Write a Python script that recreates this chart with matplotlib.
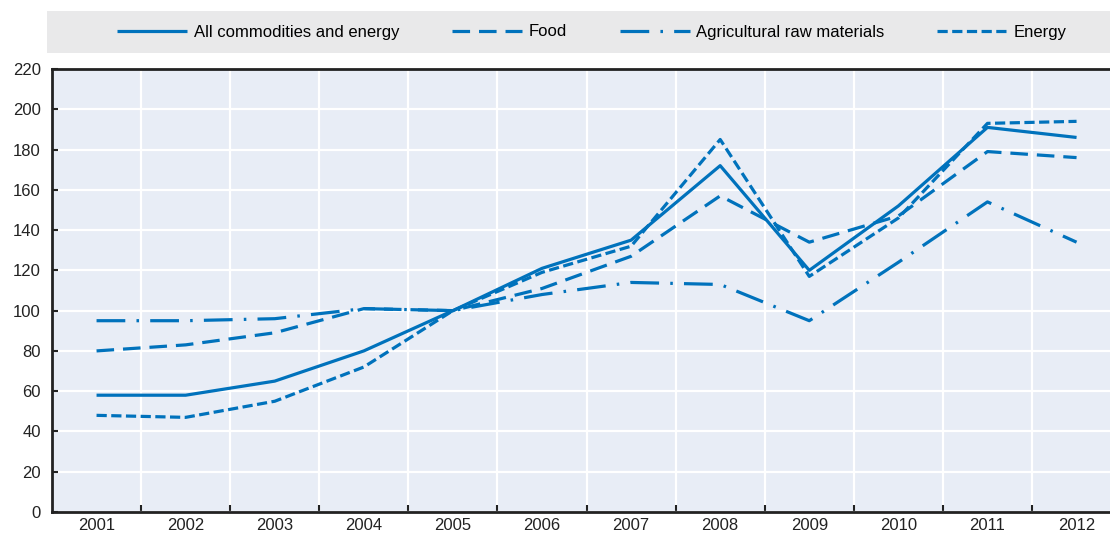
import matplotlib
matplotlib.use("Agg")
import matplotlib.pyplot as plt
from matplotlib.patches import Rectangle
from matplotlib.font_manager import fontManager

years = ["2001", "2002", "2003", "2004", "2005", "2006",
         "2007", "2008", "2009", "2010", "2011", "2012"]
all_commodities = [58, 58, 65, 80, 100, 121, 135, 172, 120, 152, 191, 186]
food = [80, 83, 89, 101, 100, 111, 127, 157, 134, 147, 179, 176]
agri_raw = [95, 95, 96, 101, 100, 108, 114, 113, 95, 124, 154, 134]
energy = [48, 47, 55, 72, 100, 119, 132, 185, 117, 146, 193, 194]

names = {f.name for f in fontManager.ttflist}
fam = "Liberation Sans Narrow" if "Liberation Sans Narrow" in names else "Liberation Sans"
plt.rcParams["font.family"] = [fam, "DejaVu Sans"]
plt.rcParams["font.size"] = 12

BLUE = "#0072bc"
fig = plt.figure(figsize=(11.1, 5.35), dpi=100)
W, H = 1110, 535
ax = fig.add_axes([52 / W, 1 - 512 / H, (1110 - 52) / W + 0.01, (512 - 69) / H])
ax.set_facecolor("#e8edf6")

x = list(range(len(years)))
lw = 2.3
ax.plot(x, all_commodities, color=BLUE, lw=lw, label="All commodities and energy",
        solid_capstyle="butt")
ax.plot(x, food, color=BLUE, lw=lw, label="Food", dashes=(5.5, 2.8))
ax.plot(x, agri_raw, color=BLUE, lw=lw, label="Agricultural raw materials",
        dashes=(9, 3.5, 0.8, 3.5))
ax.plot(x, energy, color=BLUE, lw=lw, label="Energy", dashes=(3.2, 1.4))

ax.set_xlim(-0.5, len(years) - 0.5)
ax.set_ylim(0, 220)
ax.set_yticks(range(0, 221, 20))
ax.set_xticks(x)
ax.set_xticklabels(years)
ax.set_xticks([i + 0.5 for i in range(len(years) - 1)], minor=True)
ax.tick_params(axis="x", which="major", length=0, pad=4, colors="#222222")
ax.tick_params(axis="x", which="minor", length=5, width=1.5, direction="in", color="#222222")
ax.tick_params(axis="y", length=4, width=1.5, direction="in", pad=8, colors="#222222")
ax.grid(axis="y", which="major", color="white", lw=1.6)
ax.grid(axis="x", which="minor", color="white", lw=1.6)
ax.set_axisbelow(True)
for s in ("left", "bottom", "top"):
    ax.spines[s].set_color("#222222")
    ax.spines[s].set_linewidth(2)
ax.spines["right"].set_visible(False)

# legend band
fig.patches.append(Rectangle((47 / W, 1 - 53 / H), (1110 - 47) / W, 42 / H,
                             transform=fig.transFigure, facecolor="#e9e9ea",
                             edgecolor="none", zorder=0))
handles, labels = ax.get_legend_handles_labels()
fig.legend(handles, labels, loc="center", bbox_to_anchor=(592 / W, 1 - 32 / H),
           ncol=4, frameon=False, handlelength=4.2, handletextpad=0.4,
           columnspacing=3.15, fontsize=12)

fig.savefig("out.png", dpi=100)
